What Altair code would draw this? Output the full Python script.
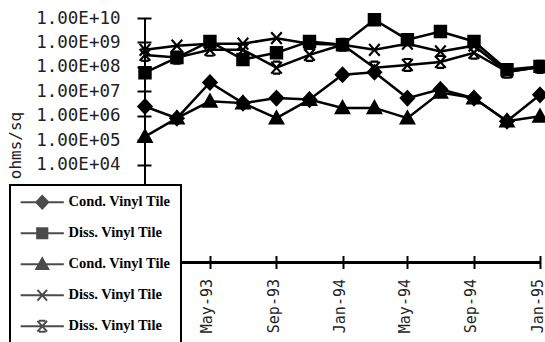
import altair as alt
import pandas as pd

# ---- data ----
dates = ["1993-01-01", "1993-03-01", "1993-05-01", "1993-07-01", "1993-09-01", "1993-11-01",
         "1994-01-01", "1994-03-01", "1994-05-01", "1994-07-01", "1994-09-01", "1994-11-01",
         "1995-01-01"]
series_ids = ["s1", "s2", "s3", "s4", "s5"]
series_names = ["Cond. Vinyl Tile", "Diss. Vinyl Tile", "Cond. Vinyl Tile",
                "Diss. Vinyl Tile", "Diss. Vinyl Tile"]
cond_tile_a = [2.4e6, 8e5, 2.3e7, 3.3e6, 5.3e6, 4.6e6, 4.8e7, 6e7, 5.3e6, 1.2e7, 5.3e6, 6e5, 7.2e6]
diss_tile_a = [5.8e7, 2.4e8, 1.1e9, 2e8, 3.8e8, 1.1e9, 8.1e8, 8.5e9, 1.3e9, 2.8e9, 1.1e9, 7.7e7, 1.05e8]
cond_tile_b = [1.4e5, 8e5, 3.9e6, 3.3e6, 8e5, 4.6e6, 2.1e6, 2.1e6, 8e5, 9e6, 5.3e6, 6e5, 9.5e5]
diss_tile_b = [5e8, 7.4e8, 8.9e8, 8.9e8, 1.5e9, 8.9e8, 8.1e8, 5e8, 8.9e8, 4.3e8, 7.4e8, 6.3e7, 1e8]
diss_tile_c = [3.1e8, 2.4e8, 5e8, 5e8, 9.3e7, 3.1e8, 8.1e8, 9.3e7, 1.2e8, 1.6e8, 3.8e8, 6.3e7, 1e8]

y_tick_values = [10000, 100000, 1000000, 10000000, 100000000, 1000000000, 10000000000]
y_tick_labels = ["1.00E+04", "1.00E+05", "1.00E+06", "1.00E+07", "1.00E+08", "1.00E+09", "1.00E+10"]
x_tick_dates = dates
x_tick_labels = ["May-93", "Sep-93", "Jan-94", "May-94", "Sep-94", "Jan-95"]

# ---- styling ----
W, H = 395, 244.5
marker_paths = [
    "M0,-1.05L1,0L0,1.05L-1,0Z",
    "M-0.85,-0.85H0.85V0.85H-0.85Z",
    "M0,-1L1,0.8H-1Z",
    "M-0.8,-0.9L0.8,0.9M0.8,-0.9L-0.8,0.9",
    "M-0.8,-0.9L0.8,0.9M0.8,-0.9L-0.8,0.9M-0.55,-0.9H0.55M-0.55,0.9H0.55",
]
line_part = "M-3.6,0H3.6"
legend_paths = [line_part + p for p in marker_paths]

rows = []
for sid, vals in zip(series_ids, [cond_tile_a, diss_tile_a, cond_tile_b, diss_tile_b, diss_tile_c]):
    for d, v in zip(dates, vals):
        rows.append({"series": sid, "date": d, "value": v})
df = pd.DataFrame(rows)


def dt(s):
    t = pd.Timestamp(s)
    return alt.DateTime(year=t.year, month=t.month, date=t.day, utc=True)


y_expr = "''"
for v, l in zip(reversed(y_tick_values), reversed(y_tick_labels)):
    y_expr = f"datum.value == {v} ? '{l}' : ({y_expr})"

x_list = ",".join(f"'{l}'" for l in x_tick_labels)
x_expr = (f"indexof([{x_list}], utcFormat(datum.value, '%b-%y')) >= 0 ? "
          f"utcFormat(datum.value, '%b-%y') : ''")

leg_expr = "''"
for sid, nm in zip(reversed(series_ids), reversed(series_names)):
    leg_expr = f"datum.label == '{sid}' ? '{nm}' : ({leg_expr})"

x_enc = alt.X("date:T",
              scale=alt.Scale(type="utc", domain=[dt("1993-01-01"), dt("1995-01-01")]),
              axis=alt.Axis(values=[dt(d) for d in x_tick_dates], labelExpr=x_expr,
                            title=None, grid=False, domain=False, tickSize=13, offset=-7,
                            tickWidth=2, tickColor="black", labelAngle=270, labelAlign="right",
                            labelBaseline="middle", labelPadding=10, labelOffset=-3,
                            labelFont="DejaVu Sans Mono", labelFontSize=15, labelColor="#222"))
y_enc = alt.Y("value:Q",
              scale=alt.Scale(type="log", domain=[1, 1e10]),
              axis=alt.Axis(values=y_tick_values, labelExpr=y_expr, grid=False, domain=False,
                            tickSize=14, offset=-6, tickWidth=2, tickColor="black",
                            labelPadding=17, labelFont="DejaVu Sans Mono", labelFontSize=17.5,
                            labelColor="#222", title="ohms/sq", titleFont="DejaVu Sans Mono",
                            titleFontSize=16, titleFontWeight="normal", titleColor="#222",
                            titleAngle=270, titleX=-136, titleY=127, titleAlign="center",
                            titleBaseline="middle"))

base = alt.Chart(df)

lines = base.mark_line(color="black", strokeWidth=2.5).encode(
    x=x_enc, y=y_enc, detail="series:N")

points = base.mark_point(filled=True, fill="black", stroke="black", strokeWidth=2.2,
                         size=175, opacity=1).encode(
    x="date:T", y="value:Q",
    shape=alt.Shape("series:N", scale=alt.Scale(domain=series_ids, range=marker_paths),
                    legend=None))

legend_layer = base.transform_filter(alt.datum.value < 0).mark_point(
    filled=False, fill="black", stroke="black", strokeWidth=2, size=144).encode(
    x="date:T", y="value:Q",
    shape=alt.Shape("series:N", scale=alt.Scale(domain=series_ids, range=legend_paths),
                    legend=alt.Legend(title=None, orient="none", legendX=-135, legendY=167,
                                      labelExpr=leg_expr, symbolSize=144,
                                      symbolStrokeWidth=2, symbolOffset=15,
                                      labelFont="Liberation Serif",
                                      labelFontWeight="bold", labelFontSize=14.5,
                                      labelColor="black", labelOffset=19, rowPadding=11,
                                      padding=10, strokeColor="black", fillColor="white")))

y_line = alt.Chart(df).mark_rule(color="black", strokeWidth=2).encode(
    x=alt.value(0), y=alt.value(0), y2=alt.value(H))
x_line = alt.Chart(df).mark_rule(color="black", strokeWidth=2).encode(
    y=alt.value(H), x=alt.value(0), x2=alt.value(W))

chart = alt.layer(y_line, x_line, lines, points, legend_layer).resolve_scale(
    shape="independent"
).properties(
    width=W, height=H,
    autosize=alt.AutoSizeParams(type="none"),
    padding={"left": 145, "top": 18, "right": 5, "bottom": 80},
    background="white",
).configure_view(stroke=None).configure_legend(strokeWidth=2)

chart.save("out.html", embed_options={"renderer": "svg", "actions": False})
